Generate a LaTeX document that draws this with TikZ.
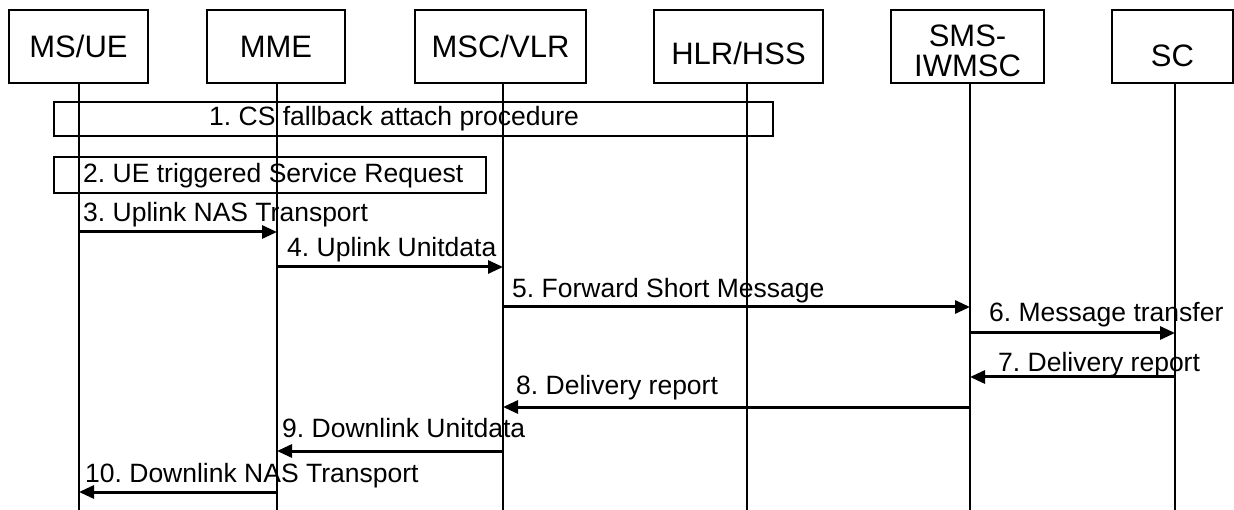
\documentclass[tikz,border=0pt]{standalone}
\usepackage{fontspec}
\setmainfont{Liberation Sans}
\usetikzlibrary{arrows.meta}

\tikzset{
	head/.style={draw, line width=1.8pt, inner sep=0pt, align=center, minimum height=73pt, font=\fontsize{31}{30}\selectfont},
	lifeline/.style={line width=2.4pt},
	frame/.style={draw, line width=1.8pt},
	msg/.style={line width=3pt, -{Triangle[length=15pt, width=13pt]}},
	msgtext/.style={anchor=base west, inner sep=0pt, font=\fontsize{26.5}{28}\selectfont\frenchspacing},
}

\begin{document}
\begin{tikzpicture}[x=1pt, y=-1pt]
	\useasboundingbox (0,0) rectangle (1234,510);

	%% Instanzen
	\node[head, minimum width=139pt] (ue) at (78.5,46.5) {MS/UE};
	\node[head, minimum width=138pt] (mme) at (276,46.5) {MME};
	\node[head, minimum width=171pt] (msc) at (500.5,46.5) {MSC/VLR};
	\node[head, minimum width=169pt, text height=37pt] (hlr) at (738.5,46.5) {HLR/HSS};
	\node[head, minimum width=153pt, text height=61pt, text depth=0pt] (smsc) at (967.5,46.5) {SMS-\\IWMSC};
	\node[head, minimum width=121pt, text height=41pt] (sc) at (1172.5,46.5) {SC};

	%% Lebenslinien
	\foreach \n/\x in {ue/79, mme/277, msc/503, hlr/747, smsc/970, sc/1175}
	{
		\coordinate (l\n) at (\n.south -| \x,0);
		\draw[lifeline] (l\n) -- (l\n |- 0,510);
	}
	%%%%%%%%%%%%%%%%

	%% Prozeduren
	\draw[frame] (54,102) rectangle (773,136);
	\node[msgtext] (attach) at (209,126) {1. CS fallback attach procedure};
	\draw[frame] (54,157) rectangle (486,193);
	\node[msgtext] (servreq) at (83,183) {2. UE triggered Service Request};

	%% Nachrichten
	\draw[msg] (lue |- 0,232) -- (lmme |- 0,232);
	\node[msgtext] (m3) at (83,222) {3. Uplink NAS Transport};
	\draw[msg] (lmme |- 0,267) -- (lmsc |- 0,267);
	\node[msgtext] (m4) at (287,257) {4. Uplink Unitdata};
	\draw[msg] (lmsc |- 0,307) -- (lsmsc |- 0,307);
	\node[msgtext] (m5) at (512,298) {5. Forward Short Message};
	\draw[msg] (lsmsc |- 0,333) -- (lsc |- 0,333);
	\node[msgtext] (m6) at (989,322) {6. Message transfer};
	\draw[msg] (lsc |- 0,377) -- (lsmsc |- 0,377);
	\node[msgtext] (m7) at (998,372) {7. Delivery report};
	\draw[msg] (lsmsc |- 0,407) -- (lmsc |- 0,407);
	\node[msgtext] (m8) at (516,395) {8. Delivery report};
	\draw[msg] (lmsc |- 0,451) -- (lmme |- 0,451);
	\node[msgtext] (m9) at (282,437) {9. Downlink Unitdata};
	\draw[msg] (lmme |- 0,492) -- (lue |- 0,492);
	\node[msgtext] (m10) at (85,482) {10. Downlink NAS Transport};
\end{tikzpicture}
\end{document}
